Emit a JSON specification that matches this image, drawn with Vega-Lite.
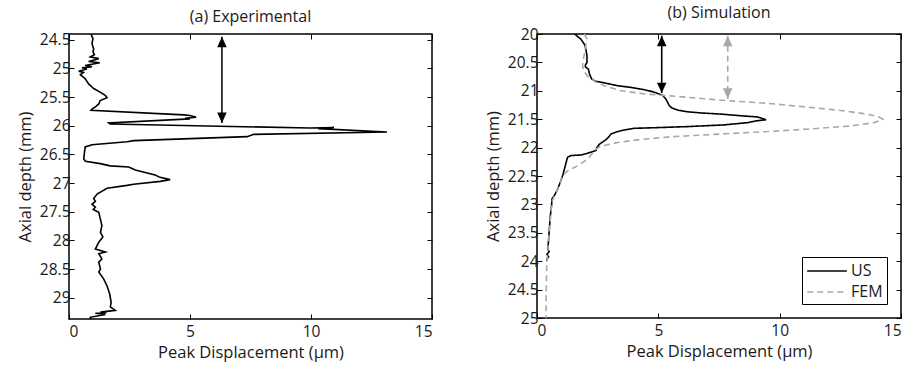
{
  "$schema": "https://vega.github.io/schema/vega-lite/v6.json",
  "background": "white",
  "padding": {"left": 16, "top": 4, "right": 5, "bottom": 2},
  "resolve": {"scale": {"color": "independent", "strokeDash": "independent", "fill": "independent"}, "legend": {"color": "independent"}},
  "datasets": {
    "exp": [
      {"i":1,"d":0.91,"z":24.40},{"i":2,"d":0.99,"z":24.48},{"i":3,"d":0.95,"z":24.57},{"i":4,"d":1.02,"z":24.66},
      {"i":5,"d":0.99,"z":24.71},{"i":6,"d":1.05,"z":24.76},{"i":7,"d":0.88,"z":24.80},{"i":8,"d":1.23,"z":24.83},
      {"i":9,"d":0.81,"z":24.88},{"i":10,"d":1.27,"z":24.90},{"i":11,"d":0.67,"z":24.95},{"i":12,"d":0.95,"z":24.97},
      {"i":13,"d":0.54,"z":24.99},{"i":14,"d":0.74,"z":25.01},{"i":15,"d":0.40,"z":25.05},{"i":16,"d":0.60,"z":25.07},
      {"i":17,"d":0.47,"z":25.11},{"i":18,"d":0.67,"z":25.18},{"i":19,"d":0.81,"z":25.27},{"i":20,"d":1.02,"z":25.35},
      {"i":21,"d":1.23,"z":25.40},{"i":22,"d":1.50,"z":25.47},{"i":23,"d":1.57,"z":25.51},{"i":24,"d":1.29,"z":25.56},
      {"i":25,"d":1.23,"z":25.62},{"i":26,"d":1.09,"z":25.67},{"i":27,"d":0.95,"z":25.71},{"i":28,"d":0.91,"z":25.73},
      {"i":29,"d":4.74,"z":25.81},{"i":30,"d":5.00,"z":25.82},{"i":31,"d":5.25,"z":25.85},{"i":32,"d":4.80,"z":25.87},
      {"i":33,"d":5.00,"z":25.88},{"i":34,"d":1.64,"z":25.95},{"i":35,"d":1.70,"z":25.97},{"i":36,"d":9.96,"z":26.04},
      {"i":37,"d":10.95,"z":26.03},{"i":38,"d":10.30,"z":26.05},{"i":39,"d":13.14,"z":26.11},{"i":40,"d":7.64,"z":26.15},
      {"i":41,"d":7.36,"z":26.19},{"i":42,"d":2.68,"z":26.26},{"i":43,"d":2.40,"z":26.28},{"i":44,"d":0.95,"z":26.33},
      {"i":45,"d":0.67,"z":26.37},{"i":46,"d":0.64,"z":26.46},{"i":47,"d":0.61,"z":26.58},{"i":48,"d":0.68,"z":26.62},
      {"i":49,"d":1.29,"z":26.66},{"i":50,"d":1.70,"z":26.70},{"i":51,"d":2.47,"z":26.72},{"i":52,"d":2.74,"z":26.77},
      {"i":53,"d":3.56,"z":26.86},{"i":54,"d":3.76,"z":26.90},{"i":55,"d":4.18,"z":26.94},{"i":56,"d":3.77,"z":26.97},
      {"i":57,"d":2.67,"z":27.02},{"i":58,"d":2.40,"z":27.04},{"i":59,"d":1.57,"z":27.09},{"i":60,"d":1.16,"z":27.19},
      {"i":61,"d":1.02,"z":27.27},{"i":62,"d":1.09,"z":27.32},{"i":63,"d":0.95,"z":27.37},{"i":64,"d":1.09,"z":27.42},
      {"i":65,"d":1.00,"z":27.46},{"i":66,"d":1.23,"z":27.51},{"i":67,"d":1.29,"z":27.62},{"i":68,"d":1.36,"z":27.74},
      {"i":69,"d":1.30,"z":27.86},{"i":70,"d":1.40,"z":27.94},{"i":71,"d":1.23,"z":28.03},{"i":72,"d":1.09,"z":28.15},
      {"i":73,"d":1.50,"z":28.20},{"i":74,"d":1.23,"z":28.23},{"i":75,"d":1.36,"z":28.32},{"i":76,"d":1.23,"z":28.38},
      {"i":77,"d":1.30,"z":28.50},{"i":78,"d":1.23,"z":28.55},{"i":79,"d":1.43,"z":28.67},{"i":80,"d":1.57,"z":28.79},
      {"i":81,"d":1.68,"z":28.93},{"i":82,"d":1.74,"z":29.08},{"i":83,"d":1.71,"z":29.16},{"i":84,"d":1.91,"z":29.22},
      {"i":85,"d":1.30,"z":29.25},{"i":86,"d":1.55,"z":29.26},{"i":87,"d":1.09,"z":29.27},{"i":88,"d":1.50,"z":29.29},
      {"i":89,"d":0.88,"z":29.34},{"i":90,"d":0.90,"z":29.37}
    ],
    "sim": [
      {"series":"US","i":1,"d":1.55,"z":20.00},{"series":"US","i":2,"d":1.81,"z":20.09},{"series":"US","i":3,"d":1.98,"z":20.20},
      {"series":"US","i":4,"d":2.06,"z":20.38},{"series":"US","i":5,"d":2.06,"z":20.50},{"series":"US","i":6,"d":1.99,"z":20.55},
      {"series":"US","i":7,"d":2.00,"z":20.58},{"series":"US","i":8,"d":2.12,"z":20.62},{"series":"US","i":9,"d":2.16,"z":20.70},
      {"series":"US","i":10,"d":2.25,"z":20.79},{"series":"US","i":11,"d":2.40,"z":20.83},{"series":"US","i":12,"d":2.77,"z":20.86},
      {"series":"US","i":13,"d":3.32,"z":20.91},{"series":"US","i":14,"d":3.87,"z":20.94},{"series":"US","i":15,"d":4.42,"z":20.98},
      {"series":"US","i":16,"d":4.80,"z":21.02},{"series":"US","i":17,"d":5.18,"z":21.08},{"series":"US","i":18,"d":5.30,"z":21.14},
      {"series":"US","i":19,"d":5.38,"z":21.20},{"series":"US","i":20,"d":5.45,"z":21.26},{"series":"US","i":21,"d":5.55,"z":21.30},
      {"series":"US","i":22,"d":5.80,"z":21.34},{"series":"US","i":23,"d":6.21,"z":21.37},{"series":"US","i":24,"d":6.76,"z":21.39},
      {"series":"US","i":25,"d":7.58,"z":21.41},{"series":"US","i":26,"d":8.41,"z":21.44},{"series":"US","i":27,"d":9.09,"z":21.46},
      {"series":"US","i":28,"d":9.23,"z":21.48},{"series":"US","i":29,"d":9.44,"z":21.51},{"series":"US","i":30,"d":9.03,"z":21.53},
      {"series":"US","i":31,"d":8.68,"z":21.56},{"series":"US","i":32,"d":7.72,"z":21.60},{"series":"US","i":33,"d":6.21,"z":21.63},
      {"series":"US","i":34,"d":4.84,"z":21.65},{"series":"US","i":35,"d":4.01,"z":21.66},{"series":"US","i":36,"d":3.60,"z":21.69},
      {"series":"US","i":37,"d":3.30,"z":21.72},{"series":"US","i":38,"d":3.05,"z":21.76},{"series":"US","i":39,"d":2.94,"z":21.82},
      {"series":"US","i":40,"d":2.84,"z":21.86},{"series":"US","i":41,"d":2.71,"z":21.90},{"series":"US","i":42,"d":2.57,"z":21.94},
      {"series":"US","i":43,"d":2.47,"z":22.00},{"series":"US","i":44,"d":2.43,"z":22.05},{"series":"US","i":45,"d":2.23,"z":22.08},
      {"series":"US","i":46,"d":2.00,"z":22.11},{"series":"US","i":47,"d":1.81,"z":22.13},{"series":"US","i":48,"d":1.40,"z":22.14},
      {"series":"US","i":49,"d":1.26,"z":22.17},{"series":"US","i":50,"d":1.20,"z":22.26},{"series":"US","i":51,"d":1.13,"z":22.38},
      {"series":"US","i":52,"d":1.06,"z":22.49},{"series":"US","i":53,"d":0.96,"z":22.61},{"series":"US","i":54,"d":0.85,"z":22.73},
      {"series":"US","i":55,"d":0.71,"z":22.85},{"series":"US","i":56,"d":0.62,"z":22.90},{"series":"US","i":57,"d":0.60,"z":23.02},
      {"series":"US","i":58,"d":0.55,"z":23.20},{"series":"US","i":59,"d":0.51,"z":23.43},{"series":"US","i":60,"d":0.47,"z":23.67},
      {"series":"US","i":61,"d":0.44,"z":23.79},{"series":"US","i":62,"d":0.50,"z":23.83},{"series":"US","i":63,"d":0.41,"z":23.88},
      {"series":"US","i":64,"d":0.48,"z":23.92},{"series":"US","i":65,"d":0.42,"z":23.96},{"series":"US","i":66,"d":0.40,"z":24.00},
      {"series":"FEM","i":1,"d":1.95,"z":20.00},{"series":"FEM","i":2,"d":2.05,"z":20.08},{"series":"FEM","i":3,"d":2.00,"z":20.25},
      {"series":"FEM","i":4,"d":1.93,"z":20.40},{"series":"FEM","i":5,"d":1.88,"z":20.55},{"series":"FEM","i":6,"d":1.92,"z":20.65},
      {"series":"FEM","i":7,"d":2.10,"z":20.75},{"series":"FEM","i":8,"d":2.40,"z":20.84},{"series":"FEM","i":9,"d":2.77,"z":20.91},
      {"series":"FEM","i":10,"d":3.46,"z":21.00},{"series":"FEM","i":11,"d":4.56,"z":21.06},{"series":"FEM","i":12,"d":5.79,"z":21.10},
      {"series":"FEM","i":13,"d":6.90,"z":21.14},{"series":"FEM","i":14,"d":7.72,"z":21.17},{"series":"FEM","i":15,"d":9.50,"z":21.22},
      {"series":"FEM","i":16,"d":11.20,"z":21.29},{"series":"FEM","i":17,"d":12.60,"z":21.35},{"series":"FEM","i":18,"d":13.60,"z":21.41},
      {"series":"FEM","i":19,"d":14.10,"z":21.46},{"series":"FEM","i":20,"d":14.25,"z":21.50},{"series":"FEM","i":21,"d":13.90,"z":21.56},
      {"series":"FEM","i":22,"d":12.90,"z":21.62},{"series":"FEM","i":23,"d":11.30,"z":21.67},{"series":"FEM","i":24,"d":9.40,"z":21.72},
      {"series":"FEM","i":25,"d":7.60,"z":21.76},{"series":"FEM","i":26,"d":5.50,"z":21.81},{"series":"FEM","i":27,"d":4.20,"z":21.86},
      {"series":"FEM","i":28,"d":3.32,"z":21.91},{"series":"FEM","i":29,"d":2.60,"z":21.98},{"series":"FEM","i":30,"d":2.40,"z":22.04},
      {"series":"FEM","i":31,"d":2.09,"z":22.20},{"series":"FEM","i":32,"d":1.68,"z":22.32},{"series":"FEM","i":33,"d":1.26,"z":22.41},
      {"series":"FEM","i":34,"d":1.06,"z":22.49},{"series":"FEM","i":35,"d":0.96,"z":22.61},{"series":"FEM","i":36,"d":0.85,"z":22.73},
      {"series":"FEM","i":37,"d":0.72,"z":22.85},{"series":"FEM","i":38,"d":0.62,"z":22.95},{"series":"FEM","i":39,"d":0.56,"z":23.20},
      {"series":"FEM","i":40,"d":0.50,"z":23.50},{"series":"FEM","i":41,"d":0.45,"z":23.80},{"series":"FEM","i":42,"d":0.40,"z":24.10},
      {"series":"FEM","i":43,"d":0.38,"z":24.50},{"series":"FEM","i":44,"d":0.37,"z":25.00}
    ],
    "arrows": [
      {"panel":"a","series":"US","d":6.32,"z1":24.45,"z2":25.95},
      {"panel":"b","series":"US","d":5.14,"z1":20.03,"z2":21.04},
      {"panel":"b","series":"FEM","d":7.86,"z1":20.03,"z2":21.14}
    ]
  },
  "config": {
    "font": "Open Sans",
    "view": {"stroke": "black", "strokeWidth": 1.5},
    "axis": {
      "domain": false, "grid": false, "tickColor": "black", "tickSize": -5, "tickWidth": 1,
      "labelFontSize": 15.5, "labelColor": "#1a1a1a", "labelPadding": 4,
      "titleFontSize": 16.5, "titleFontWeight": "normal", "titleColor": "#1a1a1a"
    },
    "title": {"fontSize": 16, "fontWeight": "normal", "color": "#1a1a1a", "offset": 6},
    "concat": {"spacing": 50}
  },
  "hconcat": [
    {
      "width": 363, "height": 285,
      "title": "(a) Experimental",
      "layer": [
        {
          "data": {"name": "exp"},
          "mark": {"type": "line", "color": "black", "strokeWidth": 1.6},
          "encoding": {
            "x": {"field": "d", "type": "quantitative", "scale": {"domain": [0, 15], "nice": false},
                  "axis": {"orient": "bottom", "values": [0, 5, 10, 15], "title": "Peak Displacement (μm)", "titlePadding": 5, "labelPadding": 10}},
            "y": {"field": "z", "type": "quantitative", "scale": {"domain": [24.4, 29.37], "reverse": true, "nice": false, "zero": false},
                  "axis": {"orient": "left", "values": [24.5, 25, 25.5, 26, 26.5, 27, 27.5, 28, 28.5, 29], "format": "~g", "title": "Axial depth (mm)", "titlePadding": 6}},
            "order": {"field": "i"}
          }
        },
        {
          "data": {"name": "arrows"},
          "transform": [{"filter": "datum.panel == 'a'"}],
          "mark": {"type": "rule", "color": "black", "strokeWidth": 1.5},
          "encoding": {
            "x": {"field": "d", "type": "quantitative", "scale": {"domain": [0, 15], "nice": false},
                  "axis": {"orient": "top", "values": [0, 5, 10, 15], "labels": false, "title": null}},
            "y": {"field": "z1", "type": "quantitative", "scale": {"domain": [24.4, 29.37], "reverse": true, "nice": false, "zero": false},
                  "axis": {"orient": "right", "values": [24.5, 25, 25.5, 26, 26.5, 27, 27.5, 28, 28.5, 29], "labels": false, "title": null}},
            "y2": {"field": "z2"}
          }
        },
        {
          "data": {"name": "arrows"},
          "transform": [{"filter": "datum.panel == 'a'"}],
          "mark": {"type": "point", "shape": "M0,0L-1,2.2L1,2.2Z", "filled": true, "color": "black", "size": 90, "opacity": 1},
          "encoding": {
            "x": {"field": "d", "type": "quantitative", "axis": null},
            "y": {"field": "z1", "type": "quantitative", "axis": null}
          }
        },
        {
          "data": {"name": "arrows"},
          "transform": [{"filter": "datum.panel == 'a'"}],
          "mark": {"type": "point", "shape": "M0,0L-1,-2.2L1,-2.2Z", "filled": true, "color": "black", "size": 90, "opacity": 1},
          "encoding": {
            "x": {"field": "d", "type": "quantitative", "axis": null},
            "y": {"field": "z2", "type": "quantitative", "axis": null}
          }
        }
      ],
      "resolve": {"axis": {"x": "independent", "y": "independent"}}
    },
    {
      "width": 364, "height": 284,
      "title": "(b) Simulation",
      "layer": [
        {
          "data": {"name": "sim"},
          "mark": {"type": "line", "strokeWidth": 1.6},
          "encoding": {
            "x": {"field": "d", "type": "quantitative", "scale": {"domain": [0, 15], "nice": false},
                  "axis": {"orient": "bottom", "values": [0, 5, 10, 15], "title": "Peak Displacement (μm)", "titlePadding": 5, "labelPadding": 10}},
            "y": {"field": "z", "type": "quantitative", "scale": {"domain": [20, 25], "reverse": true, "nice": false, "zero": false},
                  "axis": {"orient": "left", "values": [20, 20.5, 21, 21.5, 22, 22.5, 23, 23.5, 24, 24.5, 25], "format": "~g", "title": "Axial depth (mm)", "titlePadding": 6}},
            "color": {"field": "series", "type": "nominal", "sort": ["US", "FEM"],
                      "scale": {"domain": ["US", "FEM"], "range": ["black", "#a8a8a8"]},
                      "legend": {"orient": "bottom-right", "title": null, "offset": 14, "strokeColor": "black",
                                 "fillColor": "white", "padding": 4, "symbolType": "M-2.2,0L2.2,0", "symbolSize": 324, "symbolOffset": 11,
                                 "symbolStrokeWidth": 1.6, "labelFontSize": 16, "labelColor": "#1a1a1a", "labelOffset": 14, "rowPadding": 3}},
            "strokeDash": {"field": "series", "type": "nominal", "sort": ["US", "FEM"],
                           "scale": {"domain": ["US", "FEM"], "range": [[1, 0], [6, 4]]}, "legend": null},
            "order": {"field": "i"}
          }
        },
        {
          "data": {"name": "arrows"},
          "transform": [{"filter": "datum.panel == 'b'"}],
          "mark": {"type": "rule", "strokeWidth": 1.6},
          "encoding": {
            "x": {"field": "d", "type": "quantitative", "scale": {"domain": [0, 15], "nice": false},
                  "axis": {"orient": "top", "values": [0, 5, 10, 15], "labels": false, "title": null}},
            "y": {"field": "z1", "type": "quantitative", "scale": {"domain": [20, 25], "reverse": true, "nice": false, "zero": false},
                  "axis": {"orient": "right", "values": [20, 20.5, 21, 21.5, 22, 22.5, 23, 23.5, 24, 24.5, 25], "labels": false, "title": null}},
            "y2": {"field": "z2"},
            "color": {"field": "series", "type": "nominal", "scale": {"domain": ["US", "FEM"], "range": ["black", "#a8a8a8"]}, "legend": null},
            "strokeDash": {"field": "series", "type": "nominal", "scale": {"domain": ["US", "FEM"], "range": [[1, 0], [6, 4]]}, "legend": null}
          }
        },
        {
          "data": {"name": "arrows"},
          "transform": [{"filter": "datum.panel == 'b'"}],
          "mark": {"type": "point", "shape": "M0,0L-1,2.2L1,2.2Z", "filled": true, "size": 90, "opacity": 1, "strokeWidth": 0},
          "encoding": {
            "x": {"field": "d", "type": "quantitative", "axis": null},
            "y": {"field": "z1", "type": "quantitative", "axis": null},
            "fill": {"field": "series", "type": "nominal", "scale": {"domain": ["US", "FEM"], "range": ["black", "#a8a8a8"]}, "legend": null}
          }
        },
        {
          "data": {"name": "arrows"},
          "transform": [{"filter": "datum.panel == 'b'"}],
          "mark": {"type": "point", "shape": "M0,0L-1,-2.2L1,-2.2Z", "filled": true, "size": 90, "opacity": 1, "strokeWidth": 0},
          "encoding": {
            "x": {"field": "d", "type": "quantitative", "axis": null},
            "y": {"field": "z2", "type": "quantitative", "axis": null},
            "fill": {"field": "series", "type": "nominal", "scale": {"domain": ["US", "FEM"], "range": ["black", "#a8a8a8"]}, "legend": null}
          }
        }
      ],
      "resolve": {"axis": {"x": "independent", "y": "independent"}}
    }
  ]
}
